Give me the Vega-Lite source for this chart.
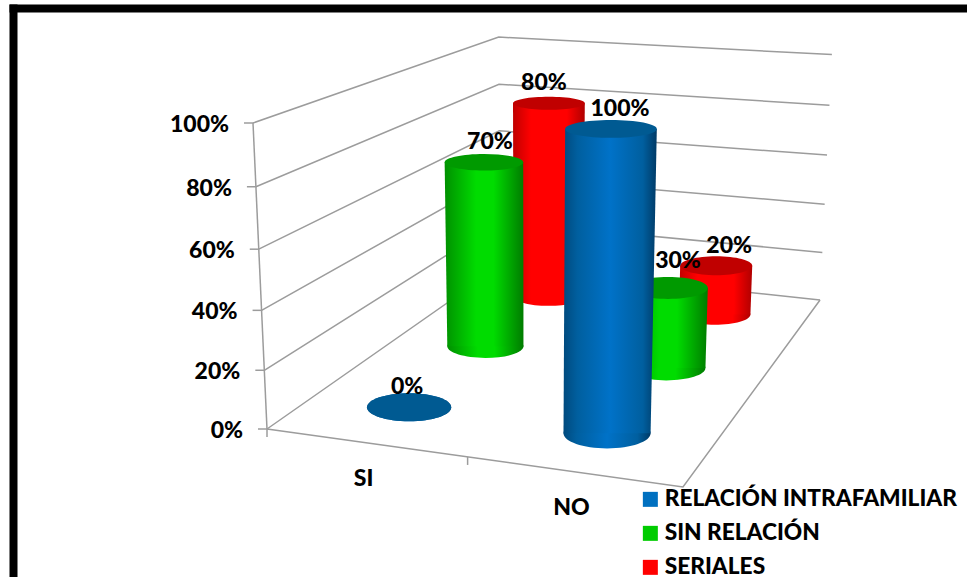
{
  "$schema": "https://vega.github.io/schema/vega-lite/v6.json",
  "width": 954,
  "height": 569,
  "autosize": "none",
  "padding": {"left": 13, "top": 8, "right": 0, "bottom": 0},
  "background": "white",
  "config": {"view": {"stroke": null}, "font": "Lato"},
  "datasets": {
    "cilindros": [
      {"categoria": "SI", "serie": "RELACIÓN INTRAFAMILIAR", "valor": 0},
      {"categoria": "SI", "serie": "SIN RELACIÓN", "valor": 0.7},
      {"categoria": "SI", "serie": "SERIALES", "valor": 0.8},
      {"categoria": "NO", "serie": "RELACIÓN INTRAFAMILIAR", "valor": 1},
      {"categoria": "NO", "serie": "SIN RELACIÓN", "valor": 0.3},
      {"categoria": "NO", "serie": "SERIALES", "valor": 0.2}
    ],
    "armazon": [
      {"linea": "n0", "paso": 0, "u": 0, "v": 0, "z": 0}, {"linea": "n0", "paso": 1, "u": 0, "v": 1, "z": 0}, {"linea": "n0", "paso": 2, "u": 1, "v": 1, "z": 0},
      {"linea": "n20", "paso": 0, "u": 0, "v": 0, "z": 0.2}, {"linea": "n20", "paso": 1, "u": 0, "v": 1, "z": 0.2}, {"linea": "n20", "paso": 2, "u": 1, "v": 1, "z": 0.2},
      {"linea": "n40", "paso": 0, "u": 0, "v": 0, "z": 0.4}, {"linea": "n40", "paso": 1, "u": 0, "v": 1, "z": 0.4}, {"linea": "n40", "paso": 2, "u": 1, "v": 1, "z": 0.4},
      {"linea": "n60", "paso": 0, "u": 0, "v": 0, "z": 0.6}, {"linea": "n60", "paso": 1, "u": 0, "v": 1, "z": 0.6}, {"linea": "n60", "paso": 2, "u": 1, "v": 1, "z": 0.6},
      {"linea": "n80", "paso": 0, "u": 0, "v": 0, "z": 0.8}, {"linea": "n80", "paso": 1, "u": 0, "v": 1, "z": 0.8}, {"linea": "n80", "paso": 2, "u": 1, "v": 1, "z": 0.8},
      {"linea": "n100", "paso": 0, "u": 0, "v": 0, "z": 1}, {"linea": "n100", "paso": 1, "u": 0, "v": 1, "z": 1}, {"linea": "n100", "paso": 2, "u": 1, "v": 1, "z": 1},
      {"linea": "esquina", "paso": 0, "u": 0, "v": 0, "z": 0}, {"linea": "esquina", "paso": 1, "u": 0, "v": 0, "z": 1},
      {"linea": "suelo", "paso": 0, "u": 0, "v": 0, "z": 0}, {"linea": "suelo", "paso": 1, "u": 1, "v": 0, "z": 0}, {"linea": "suelo", "paso": 2, "u": 1, "v": 1, "z": 0}
    ],
    "niveles": [{"z": 0}, {"z": 0.2}, {"z": 0.4}, {"z": 0.6}, {"z": 0.8}, {"z": 1}],
    "categorias": [{"categoria": "SI", "u": 0.25}, {"categoria": "NO", "u": 0.75}],
    "divisiones": [{"u": 0}, {"u": 0.5}]
  },
  "layer": [
    {
      "description": "Marco negro del grafico y lineas de las paredes y el suelo",
      "data": {"name": "armazon"},
      "transform": [
        {"calculate": "1 - 0.0685*datum.u + 0.3293*datum.v - 0.05*datum.z", "as": "w"},
        {"calculate": "(369.2*datum.u + 397.7*datum.v + 267 - 26.65*datum.z) / datum.w", "as": "px"},
        {"calculate": "(24.6*datum.u - 75.4*datum.v + 429 - 312.15*datum.z + 6*datum.z*(1-datum.u)*datum.v) / datum.w", "as": "py"}
      ],
      "mark": {"type": "line", "color": "#9c9c9c", "strokeWidth": 1.5},
      "encoding": {
        "x": {"field": "px", "type": "quantitative", "scale": {"domain": [13, 967], "nice": false, "zero": false},
              "axis": {"orient": "top", "title": null, "labels": false, "ticks": false, "grid": false, "domainColor": "#000000", "domainWidth": 8, "domainCap": "square"}},
        "y": {"field": "py", "type": "quantitative", "scale": {"domain": [8, 577], "nice": false, "zero": false, "reverse": true},
              "axis": {"orient": "left", "title": null, "labels": false, "ticks": false, "grid": false, "domainColor": "#000000", "domainWidth": 8, "domainCap": "square"}},
        "detail": {"field": "linea"},
        "order": {"field": "paso"}
      }
    },
    {
      "description": "Marcas y rotulos del eje de porcentaje",
      "data": {"name": "niveles"},
      "transform": [
        {"calculate": "1 - 0.05*datum.z", "as": "w"},
        {"calculate": "(267 - 26.65*datum.z) / datum.w", "as": "px"},
        {"calculate": "(429 - 312.15*datum.z) / datum.w", "as": "py"},
        {"calculate": "datum.px - 9", "as": "px0"},
        {"calculate": "datum.px - 24", "as": "pxt"}
      ],
      "layer": [
        {
          "mark": {"type": "rule", "color": "#9c9c9c", "strokeWidth": 1.5},
          "encoding": {
            "x": {"field": "px0", "type": "quantitative"},
            "x2": {"field": "px"},
            "y": {"field": "py", "type": "quantitative"}
          }
        },
        {
          "mark": {"type": "text", "align": "right", "baseline": "middle", "dy": 2, "fontSize": 23, "fontWeight": 900, "color": "#000000"},
          "encoding": {
            "x": {"field": "pxt", "type": "quantitative"},
            "y": {"field": "py", "type": "quantitative"},
            "text": {"field": "z", "type": "quantitative", "format": ".0%"}
          }
        }
      ]
    },
    {
      "description": "Divisiones del eje de categorias",
      "data": {"name": "divisiones"},
      "transform": [
        {"calculate": "1 - 0.0685*datum.u", "as": "w"},
        {"calculate": "(369.2*datum.u + 267) / datum.w", "as": "px"},
        {"calculate": "(24.6*datum.u + 429) / datum.w", "as": "py"},
        {"calculate": "datum.py + 8", "as": "py2"}
      ],
      "mark": {"type": "rule", "color": "#9c9c9c", "strokeWidth": 1.5},
      "encoding": {
        "x": {"field": "px", "type": "quantitative"},
        "y": {"field": "py", "type": "quantitative"},
        "y2": {"field": "py2"}
      }
    },
    {
      "description": "Rotulos de categoria",
      "data": {"name": "categorias"},
      "transform": [
        {"calculate": "1 - 0.0685*datum.u", "as": "w"},
        {"calculate": "(369.2*datum.u + 267) / datum.w", "as": "px"},
        {"calculate": "(24.6*datum.u + 429) / datum.w + 34", "as": "py"}
      ],
      "mark": {"type": "text", "align": "center", "baseline": "middle", "dx": -2, "dy": 2, "fontSize": 23, "fontWeight": 900, "color": "#000000"},
      "encoding": {
        "x": {"field": "px", "type": "quantitative"},
        "y": {"field": "py", "type": "quantitative"},
        "text": {"field": "categoria"}
      }
    },
    {
      "description": "Cilindros proyectados desde categoria, serie y valor",
      "data": {"name": "cilindros"},
      "transform": [
        {"calculate": "datum.categoria === 'SI' ? 0.25 : 0.75", "as": "u"},
        {"calculate": "datum.serie === 'RELACIÓN INTRAFAMILIAR' ? 1/6 : (datum.serie === 'SIN RELACIÓN' ? 1/2 : 5/6)", "as": "v"},
        {"calculate": "1 - 0.0685*datum.u + 0.3293*datum.v", "as": "wb"},
        {"calculate": "datum.wb - 0.05*datum.valor", "as": "wt"},
        {"calculate": "(369.2*datum.u + 397.7*datum.v + 267) / datum.wb - 1", "as": "xb"},
        {"calculate": "(24.6*datum.u - 75.4*datum.v + 429) / datum.wb", "as": "yb"},
        {"calculate": "(369.2*datum.u + 397.7*datum.v + 267 - 26.65*datum.valor) / datum.wt - 1", "as": "xt"},
        {"calculate": "(24.6*datum.u - 75.4*datum.v + 429 - 312.15*datum.valor + 6*datum.valor*(1-datum.u)*datum.v) / datum.wt", "as": "yt"},
        {"calculate": "43.7 / datum.wb", "as": "rb"},
        {"calculate": "43.7 / datum.wt", "as": "rt"},
        {"calculate": "pow(2*datum.rb, 2)", "as": "tamBase"},
        {"calculate": "pow(2*datum.rt, 2)", "as": "tamTapa"},
        {"calculate": "format(0.13 + 0.0005*datum.yb, '.3f')", "as": "aplBase"},
        {"calculate": "format(0.13 + 0.0005*datum.yt, '.3f')", "as": "aplTapa"},
        {"calculate": "'M-1,0A1,' + datum.aplBase + ' 0 1,1 1,0A1,' + datum.aplBase + ' 0 1,1 -1,0Z'", "as": "formaBase"},
        {"calculate": "'M-1,0A1,' + datum.aplTapa + ' 0 1,1 1,0A1,' + datum.aplTapa + ' 0 1,1 -1,0Z'", "as": "formaTapa"},
        {"calculate": "datum.categoria === 'SI' ? (datum.v < 0.3 ? -2 : (datum.v < 0.7 ? 6 : -5)) : (datum.v < 0.3 ? 9 : (datum.v < 0.7 ? 10 : 13))", "as": "dxEtq"},
        {"calculate": "datum.categoria === 'NO' && datum.v === 1/2 ? -27 : -20", "as": "dyEtq"},
        {"calculate": "datum.xt + datum.dxEtq", "as": "xEtq"},
        {"calculate": "datum.yt + datum.dyEtq", "as": "yEtq"}
      ],
      "layer": [
        {
          "transform": [{"filter": "datum.serie === 'SERIALES'"}],
          "layer": [
            {
              "mark": {"type": "point", "filled": true, "opacity": 1, "fill": {"gradient": "linear", "x1": 0, "y1": 0, "x2": 1, "y2": 0, "stops": [{"offset": 0, "color": "#c00000"}, {"offset": 0.25, "color": "#ff0000"}, {"offset": 0.75, "color": "#ff0000"}, {"offset": 1, "color": "#b00000"}]}},
              "encoding": {
                "x": {"field": "xb", "type": "quantitative"}, "y": {"field": "yb", "type": "quantitative"},
                "size": {"field": "tamBase", "type": "quantitative", "scale": null},
                "shape": {"field": "formaBase", "type": "nominal", "scale": null}
              }
            },
            {
              "transform": [
                {"fold": ["yb", "yt"], "as": ["extremo", "ypos"]},
                {"calculate": "datum.extremo === 'yb' ? datum.xb - datum.rb : datum.xt - datum.rt", "as": "xi"},
                {"calculate": "datum.extremo === 'yb' ? datum.xb + datum.rb : datum.xt + datum.rt", "as": "xd"}
              ],
              "mark": {"type": "area", "orient": "horizontal", "opacity": 1, "fill": {"gradient": "linear", "x1": 0, "y1": 0, "x2": 1, "y2": 0, "stops": [{"offset": 0, "color": "#c00000"}, {"offset": 0.25, "color": "#ff0000"}, {"offset": 0.75, "color": "#ff0000"}, {"offset": 1, "color": "#b00000"}]}},
              "encoding": {
                "x": {"field": "xi", "type": "quantitative", "stack": null}, "x2": {"field": "xd"},
                "y": {"field": "ypos", "type": "quantitative"},
                "detail": {"field": "categoria"}
              }
            },
            {
              "mark": {"type": "point", "filled": true, "opacity": 1, "color": "#c00000"},
              "encoding": {
                "x": {"field": "xt", "type": "quantitative"}, "y": {"field": "yt", "type": "quantitative"},
                "size": {"field": "tamTapa", "type": "quantitative", "scale": null},
                "shape": {"field": "formaTapa", "type": "nominal", "scale": null}
              }
            }
          ]
        },
        {
          "transform": [{"filter": "datum.serie === 'SIN RELACIÓN'"}],
          "layer": [
            {
              "mark": {"type": "point", "filled": true, "opacity": 1, "fill": {"gradient": "linear", "x1": 0, "y1": 0, "x2": 1, "y2": 0, "stops": [{"offset": 0, "color": "#009000"}, {"offset": 0.4, "color": "#00dc00"}, {"offset": 0.62, "color": "#00dc00"}, {"offset": 1, "color": "#007c00"}]}},
              "encoding": {
                "x": {"field": "xb", "type": "quantitative"}, "y": {"field": "yb", "type": "quantitative"},
                "size": {"field": "tamBase", "type": "quantitative", "scale": null},
                "shape": {"field": "formaBase", "type": "nominal", "scale": null}
              }
            },
            {
              "transform": [
                {"fold": ["yb", "yt"], "as": ["extremo", "ypos"]},
                {"calculate": "datum.extremo === 'yb' ? datum.xb - datum.rb : datum.xt - datum.rt", "as": "xi"},
                {"calculate": "datum.extremo === 'yb' ? datum.xb + datum.rb : datum.xt + datum.rt", "as": "xd"}
              ],
              "mark": {"type": "area", "orient": "horizontal", "opacity": 1, "fill": {"gradient": "linear", "x1": 0, "y1": 0, "x2": 1, "y2": 0, "stops": [{"offset": 0, "color": "#009000"}, {"offset": 0.4, "color": "#00dc00"}, {"offset": 0.62, "color": "#00dc00"}, {"offset": 1, "color": "#007c00"}]}},
              "encoding": {
                "x": {"field": "xi", "type": "quantitative", "stack": null}, "x2": {"field": "xd"},
                "y": {"field": "ypos", "type": "quantitative"},
                "detail": {"field": "categoria"}
              }
            },
            {
              "mark": {"type": "point", "filled": true, "opacity": 1, "color": "#009a00"},
              "encoding": {
                "x": {"field": "xt", "type": "quantitative"}, "y": {"field": "yt", "type": "quantitative"},
                "size": {"field": "tamTapa", "type": "quantitative", "scale": null},
                "shape": {"field": "formaTapa", "type": "nominal", "scale": null}
              }
            }
          ]
        },
        {
          "transform": [{"filter": "datum.serie === 'RELACIÓN INTRAFAMILIAR'"}],
          "layer": [
            {
              "mark": {"type": "point", "filled": true, "opacity": 1, "fill": {"gradient": "linear", "x1": 0, "y1": 0, "x2": 1, "y2": 0, "stops": [{"offset": 0, "color": "#004a7e"}, {"offset": 0.15, "color": "#005f9f"}, {"offset": 0.5, "color": "#0072c8"}, {"offset": 0.85, "color": "#005f9f"}, {"offset": 1, "color": "#003a66"}]}},
              "encoding": {
                "x": {"field": "xb", "type": "quantitative"}, "y": {"field": "yb", "type": "quantitative"},
                "size": {"field": "tamBase", "type": "quantitative", "scale": null},
                "shape": {"field": "formaBase", "type": "nominal", "scale": null}
              }
            },
            {
              "transform": [
                {"fold": ["yb", "yt"], "as": ["extremo", "ypos"]},
                {"calculate": "datum.extremo === 'yb' ? datum.xb - datum.rb : datum.xt - datum.rt", "as": "xi"},
                {"calculate": "datum.extremo === 'yb' ? datum.xb + datum.rb : datum.xt + datum.rt", "as": "xd"}
              ],
              "mark": {"type": "area", "orient": "horizontal", "opacity": 1, "fill": {"gradient": "linear", "x1": 0, "y1": 0, "x2": 1, "y2": 0, "stops": [{"offset": 0, "color": "#004a7e"}, {"offset": 0.15, "color": "#005f9f"}, {"offset": 0.5, "color": "#0072c8"}, {"offset": 0.85, "color": "#005f9f"}, {"offset": 1, "color": "#003a66"}]}},
              "encoding": {
                "x": {"field": "xi", "type": "quantitative", "stack": null}, "x2": {"field": "xd"},
                "y": {"field": "ypos", "type": "quantitative"},
                "detail": {"field": "categoria"}
              }
            },
            {
              "mark": {"type": "point", "filled": true, "opacity": 1, "color": "#005a92"},
              "encoding": {
                "x": {"field": "xt", "type": "quantitative"}, "y": {"field": "yt", "type": "quantitative"},
                "size": {"field": "tamTapa", "type": "quantitative", "scale": null},
                "shape": {"field": "formaTapa", "type": "nominal", "scale": null}
              }
            }
          ]
        },
        {
          "mark": {"type": "text", "align": "center", "baseline": "middle", "fontSize": 23, "fontWeight": 900, "color": "#000000"},
          "encoding": {
            "x": {"field": "xEtq", "type": "quantitative"},
            "y": {"field": "yEtq", "type": "quantitative"},
            "text": {"field": "valor", "type": "quantitative", "format": ".0%"}
          }
        },
        {
          "mark": {"type": "point", "filled": true, "size": 0},
          "encoding": {
            "x": {"field": "xb", "type": "quantitative"},
            "y": {"field": "yb", "type": "quantitative"},
            "color": {
              "field": "serie", "type": "nominal",
              "scale": {"domain": ["RELACIÓN INTRAFAMILIAR", "SIN RELACIÓN", "SERIALES"], "range": ["#0070c0", "#00cc00", "#ff0000"]},
              "legend": {"title": null, "orient": "none", "legendX": 626, "legendY": 480, "symbolType": "square", "symbolSize": 225, "symbolOpacity": 1, "symbolStrokeWidth": 0, "labelFontSize": 22.7, "labelFont": "Lato", "labelFontWeight": 900, "labelColor": "#000000", "labelLimit": 400, "labelOffset": 3, "rowPadding": 10}
            }
          }
        }
      ]
    }
  ]
}
